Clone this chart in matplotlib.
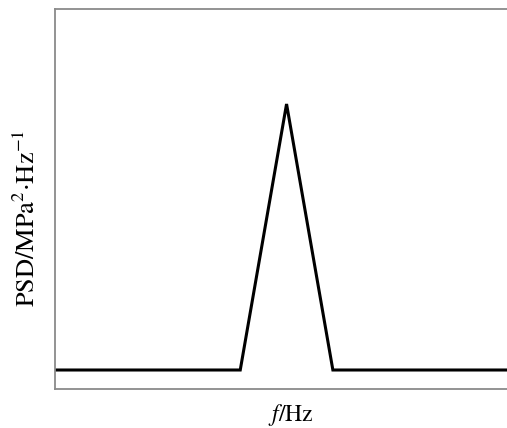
import numpy as np
import matplotlib
matplotlib.use("Agg")
import matplotlib.pyplot as plt

plt.rcParams['font.family'] = ['STIXGeneral', 'Liberation Serif', 'DejaVu Serif']
plt.rcParams['mathtext.fontset'] = 'stix'

# frequency (arbitrary units) and PSD (arbitrary units)
freq = [0, 20, 25, 30, 50]
psd = [0.05, 0.05, 0.75, 0.05, 0.05]

fig = plt.figure(figsize=(5.07, 4.28), dpi=100)
ax = fig.add_axes([55 / 507, 1 - 389 / 428, 1 - 55 / 507, 380 / 428])

ax.plot(freq, psd, color='black', linewidth=2.2, solid_joinstyle='miter')
ax.set_xlim(0, 48.8)
ax.set_ylim(0, 1)
ax.set_xticks([])
ax.set_yticks([])

for s in ax.spines.values():
    s.set_color('#8a8a8a')
    s.set_linewidth(1.3)
ax.spines['right'].set_visible(False)

ax.set_xlabel(r'$f$/Hz', fontsize=17)
ax.set_ylabel(r'PSD/MPa$^{2}$$\cdot$Hz$^{-1}$', fontsize=19)
ax.xaxis.set_label_coords(0.522, -0.035)
ax.yaxis.set_label_coords(-0.031, 0.45)

fig.savefig('out.png', dpi=100)
